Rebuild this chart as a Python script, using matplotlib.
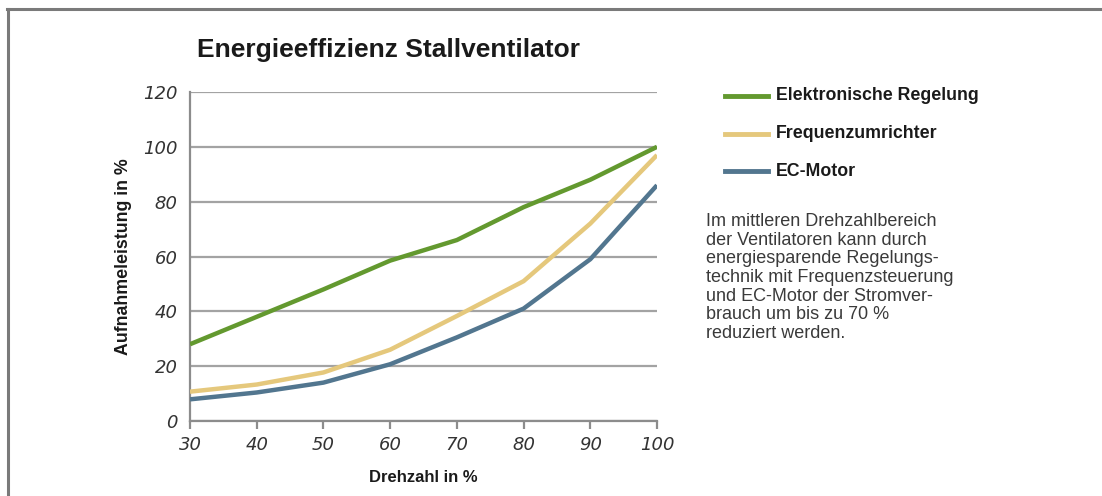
import matplotlib.pyplot as plt
from matplotlib.lines import Line2D

# -------------------------
# Data
# -------------------------
drehzahl = [30, 40, 50, 60, 70, 80, 90, 100]
elektronisch = [28, 38, 48, 58.5, 66, 78, 88, 100]
frequenz = [10.7, 13.3, 17.7, 26, 38.3, 51, 72, 97]
ec_motor = [7.9, 10.4, 14, 20.7, 30.5, 41, 59, 86]

series_names = ['Elektronische Regelung', 'Frequenzumrichter', 'EC-Motor']
colors = ['#63992f', '#e5c87c', '#52768f']

x_ticks = [30, 40, 50, 60, 70, 80, 90, 100]
y_ticks = [0, 20, 40, 60, 80, 100, 120]

note = ("Im mittleren Drehzahlbereich\n"
        "der Ventilatoren kann durch\n"
        "energiesparende Regelungs-\n"
        "technik mit Frequenzsteuerung\n"
        "und EC-Motor der Stromver-\n"
        "brauch um bis zu 70 %\n"
        "reduziert werden.")

plt.rcParams['font.family'] = ['Liberation Sans', 'DejaVu Sans']

# -------------------------
# Figure
# -------------------------
fig = plt.figure(figsize=(11.02, 4.96), dpi=100)
fig.patch.set_facecolor('white')

# outer frame (top + left only)
fig.add_artist(Line2D([7 / 1102, 1.0], [1 - 8.5 / 496] * 2, color='#7a7a7a', lw=2.2))
fig.add_artist(Line2D([7.5 / 1102] * 2, [0, 1 - 8.5 / 496], color='#7a7a7a', lw=2.2))

ax = fig.add_axes([190 / 1102, 1 - 421 / 496, 467 / 1102, 329 / 496])
for vals, c in zip([elektronisch, frequenz, ec_motor], colors):
    ax.plot(drehzahl, vals, color=c, lw=3.2, solid_capstyle='butt', zorder=3)

ax.set_xlim(30, 100)
ax.set_ylim(0, 120)
ax.set_xticks(x_ticks)
ax.set_yticks(y_ticks)
ax.grid(axis='y', color='#a3a3a3', lw=1.6, zorder=1)
ax.set_axisbelow(True)
for s in ['top', 'right']:
    ax.spines[s].set_visible(False)
for s in ['left', 'bottom']:
    ax.spines[s].set_color('#8c8c8c')
    ax.spines[s].set_linewidth(1.6)
ax.spines['bottom'].set_zorder(2)
ax.tick_params(axis='x', length=6, width=1.6, color='#8c8c8c', pad=5)
ax.tick_params(axis='y', length=0, pad=9)
tick_font = dict(family=['DejaVu Sans'], style='italic', size=13, color='#333333')
ax.set_xticklabels([str(v) for v in x_ticks], **tick_font)
ax.set_yticklabels([str(v) for v in y_ticks], **tick_font)

ax.set_xlabel('Drehzahl in %', fontsize=12, fontweight='bold', color='#1a1a1a', labelpad=11)
ax.set_ylabel('Aufnahmeleistung in %', fontsize=12.8, fontweight='bold', color='#1a1a1a', labelpad=8)

fig.text(197 / 1102, 1 - 50 / 496, 'Energieeffizienz Stallventilator',
         family=['Liberation Sans Narrow', 'Liberation Sans'], fontsize=19,
         fontweight='bold', color='#1a1a1a', ha='left', va='center')

# legend
leg_y = [96, 134, 171]
for name, c, yy in zip(series_names, colors, leg_y):
    fig.add_artist(Line2D([725 / 1102, 768 / 1102], [1 - yy / 496] * 2, color=c, lw=3.5))
    fig.text(776 / 1102, 1 - yy / 496, name, fontsize=12.8, fontweight='bold',
             color='#1a1a1a', ha='left', va='center')

fig.text(706 / 1102, 1 - 213 / 496, note, fontsize=13, color='#3a3a3a',
         ha='left', va='top', linespacing=1.13)

fig.savefig('out.png', dpi=100, facecolor='white')
